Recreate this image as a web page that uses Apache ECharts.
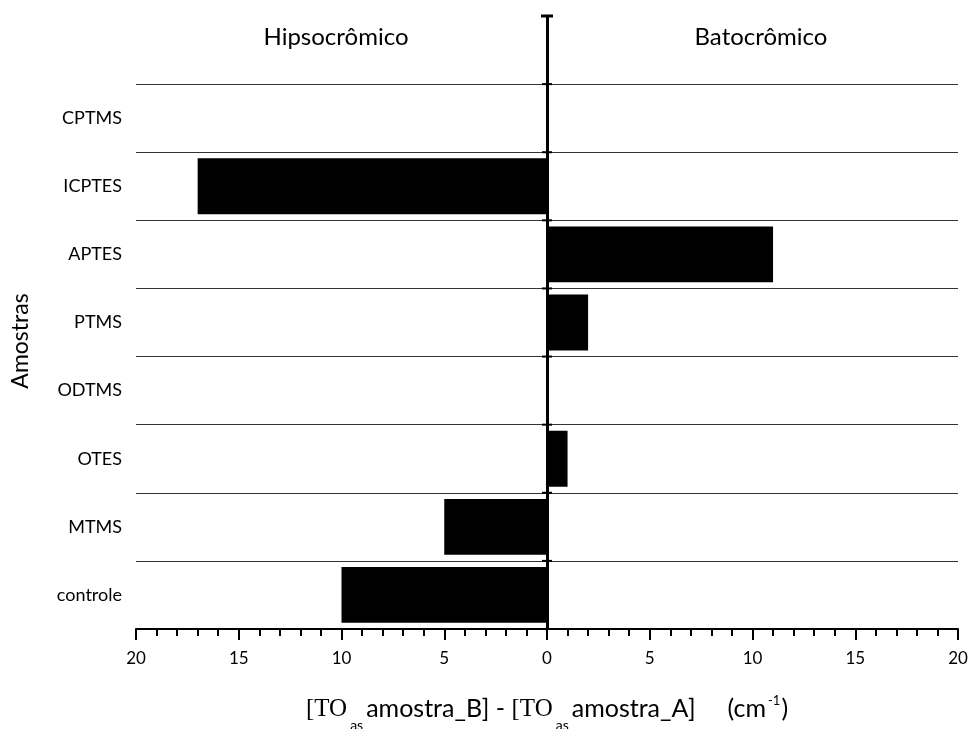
<!DOCTYPE html>
<html>
<head>
<meta charset="utf-8">
<script src="https://cdn.jsdelivr.net/npm/echarts@6/dist/echarts.min.js"></script>
<style>
  html, body { margin: 0; padding: 0; background: #fff; }
  #chart { width: 973px; height: 729px; }
</style>
</head>
<body>
<div id="chart"></div>
<script>
// Samples, bottom to top; the empty slot on top leaves room for the side headings
const categories = ['controle', 'MTMS', 'OTES', 'ODTMS', 'PTMS', 'APTES', 'ICPTES', 'CPTMS', ''];
// Band shift in cm^-1 (negative = hypsochromic, positive = bathochromic)
const shiftValues = [-10, -5, 1, 0, 2, 11, -17, 0, null];
const sideHeadings = ['Hipsocrômico', 'Batocrômico'];
const yAxisTitle = 'Amostras';

const SANS = 'Lato, "Open Sans", sans-serif';
const SERIF = '"Liberation Serif", "DejaVu Serif", serif';

const chart = echarts.init(document.getElementById('chart'), null, { renderer: 'canvas' });

// Small horizontal ticks on the zero line, one at the upper edge of every band
function renderZeroTicks(params, api) {
  const c = api.coord([api.value(0), api.value(1)]);
  const band = api.size([0, 1])[1];
  const y = c[1] - band / 2;
  const isTop = params.dataIndex === categories.length - 1;
  const half = isTop ? 6 : 5;
  return {
    type: 'line',
    shape: { x1: c[0] - half, y1: y, x2: c[0] + half, y2: y },
    style: { stroke: '#000', lineWidth: isTop ? 3 : 2 }
  };
}

chart.setOption({
  animation: false,
  backgroundColor: '#fff',
  grid: { left: 136, right: 15, top: 16, bottom: 100, containLabel: false, outerBoundsMode: 'none' },
  xAxis: {
    type: 'value',
    min: -20,
    max: 20,
    interval: 5,
    position: 'bottom',
    axisLine: { show: true, onZero: false, lineStyle: { color: '#000', width: 2 } },
    axisTick: { show: true, length: 11, lineStyle: { color: '#000', width: 2 } },
    minorTick: { show: true, splitNumber: 5, length: 7, lineStyle: { color: '#000', width: 2 } },
    splitLine: { show: false },
    minorSplitLine: { show: false },
    axisLabel: {
      formatter: v => String(Math.abs(v)),
      fontFamily: SANS, fontSize: 17, color: '#000', margin: 21
    },
    name: '{t|[TO}{s|as}{n|amostra_B] - }{t|[TO}{s|as}{n|amostra_A]     (cm}{p|-1}{n|)}',
    nameLocation: 'middle',
    nameGap: 57,
    nameTextStyle: {
      rich: {
        t: { fontFamily: SERIF, fontSize: 25, color: '#000', lineHeight: 46 },
        n: { fontFamily: SANS, fontSize: 25, color: '#000', lineHeight: 46 },
        s: { fontFamily: SANS, fontSize: 14, color: '#000', lineHeight: 14, verticalAlign: 'bottom', padding: [0, 3, 0, 3] },
        p: { fontFamily: SANS, fontSize: 13, color: '#000', lineHeight: 13, verticalAlign: 'top', padding: [8, 1, 0, 2] }
      }
    }
  },
  yAxis: {
    type: 'category',
    data: categories,
    position: 'left',
    boundaryGap: true,
    axisLine: { show: false, onZero: false },
    axisTick: { show: false },
    axisLabel: { show: true, fontFamily: SANS, fontSize: 18, color: '#000', margin: 14 },
    splitLine: { show: true, showMinLine: false, showMaxLine: false, lineStyle: { color: '#333', width: 1 } }
  },
  series: [
    {
      type: 'bar',
      data: shiftValues,
      barWidth: '82%',
      itemStyle: { color: '#000' },
      z: 2,
      markLine: {
        silent: true,
        symbol: 'none',
        label: { show: false },
        lineStyle: { color: '#000', width: 3, type: 'solid' },
        data: [{ xAxis: 0 }]
      }
    },
    {
      type: 'custom',
      silent: true,
      z: 3,
      data: categories.map((c, i) => [0, i]),
      encode: { x: 0, y: 1 },
      renderItem: renderZeroTicks
    }
  ],
  graphic: [
    { type: 'text', x: 336, y: 37,
      style: { text: sideHeadings[0], font: '24px ' + SANS, fill: '#000', align: 'center', verticalAlign: 'middle' } },
    { type: 'text', x: 761, y: 37,
      style: { text: sideHeadings[1], font: '24px ' + SANS, fill: '#000', align: 'center', verticalAlign: 'middle' } },
    { type: 'text', x: 21, y: 341, rotation: Math.PI / 2,
      style: { text: yAxisTitle, font: '23px ' + SANS, fill: '#000', align: 'center', verticalAlign: 'middle' } }
  ]
});
</script>
</body>
</html>
